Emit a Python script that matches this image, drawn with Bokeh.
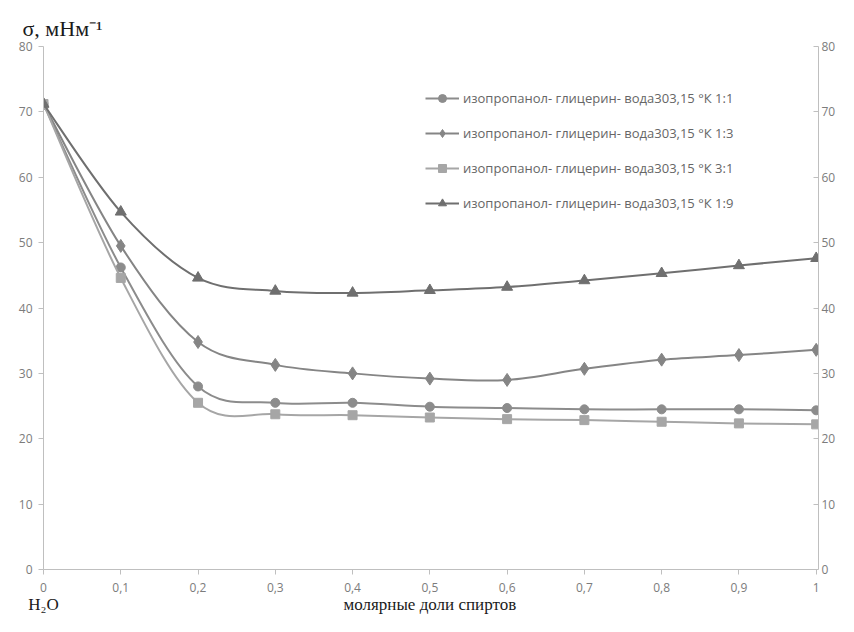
import numpy as np
from bokeh.plotting import figure
from bokeh.models import (Range1d, LinearAxis, FixedTicker, Title,
                          Legend, LegendItem, ColumnDataSource)
from bokeh.embed import file_html
from bokeh.resources import INLINE

# ---- data ----
x_vals = [0, 0.1, 0.2, 0.3, 0.4, 0.5, 0.6, 0.7, 0.8, 0.9, 1.0]
s_1_1 = [71.2, 46.2, 28.0, 25.5, 25.5, 24.9, 24.7, 24.5, 24.5, 24.5, 24.35]
s_1_3 = [71.2, 49.5, 34.8, 31.3, 30.0, 29.2, 29.0, 30.7, 32.1, 32.8, 33.6]
s_3_1 = [71.2, 44.6, 25.5, 23.75, 23.6, 23.25, 23.0, 22.85, 22.6, 22.35, 22.2]
s_1_9 = [71.2, 54.7, 44.6, 42.6, 42.3, 42.7, 43.2, 44.2, 45.3, 46.5, 47.6]

series_names = [
    "изопропанол- глицерин- вода303,15 °К 1:1",
    "изопропанол- глицерин- вода303,15 °К 1:3",
    "изопропанол- глицерин- вода303,15 °К 3:1",
    "изопропанол- глицерин- вода303,15 °К 1:9",
]
series_values = [s_1_1, s_1_3, s_3_1, s_1_9]
series_markers = ["circle", "diamond", "square", "triangle"]
series_sizes = [9, 13, 9, 11]
series_colors = ["#8c8c8c", "#858585", "#a6a6a6", "#6f6f6f"]

y_ticks = [0, 10, 20, 30, 40, 50, 60, 70, 80]
x_ticks = [0, 0.1, 0.2, 0.3, 0.4, 0.5, 0.6, 0.7, 0.8, 0.9, 1.0]
x_tick_labels = ["0", "0,1", "0,2", "0,3", "0,4", "0,5", "0,6", "0,7", "0,8", "0,9", "1"]

title_text = "σ, мНм⁻¹"
x_title_ticks = [0, 0.5]
x_title_texts = ["H₂O", "молярные доли спиртов"]

TICK_COLOR = "#7c7c7c"
AXIS_COLOR = "#bfbfbf"
SERIF = "Liberation Serif"
TXT = "#1a1a1a"

p = figure(width=838, height=616, x_range=Range1d(0, 1.003), y_range=Range1d(0, 80),
           output_backend="svg", toolbar_location=None,
           min_border_left=43, min_border_right=17, min_border_top=46, min_border_bottom=30,
           y_axis_location=None, x_axis_location=None)
p.outline_line_color = None
p.xgrid.visible = False
p.ygrid.visible = False
p.background_fill_color = "white"
p.border_fill_color = "white"

# axes
xaxis = LinearAxis(ticker=FixedTicker(ticks=x_ticks), bounds=(0, 1),
                   major_label_overrides=dict(zip(x_ticks, x_tick_labels)))
yaxis_l = LinearAxis(ticker=FixedTicker(ticks=y_ticks))
yaxis_r = LinearAxis(ticker=FixedTicker(ticks=y_ticks))
for ax in (xaxis, yaxis_l, yaxis_r):
    ax.axis_line_color = AXIS_COLOR
    ax.major_tick_line_color = AXIS_COLOR
    ax.minor_tick_line_color = None
    ax.major_label_text_color = TICK_COLOR
    ax.major_label_text_font = "Open Sans"
    ax.major_label_text_font_size = "12px"
    ax.major_tick_in = 0
    ax.major_tick_out = 5
xaxis.major_label_standoff = 8
yaxis_l.major_label_standoff = 6
yaxis_r.major_tick_in = 5
yaxis_r.major_tick_out = 0
yaxis_r.major_label_standoff = 3
p.add_layout(xaxis, "below")
p.add_layout(yaxis_l, "left")
p.add_layout(yaxis_r, "right")

# second (text-only) bottom axis: "H2O" under 0 and the x-axis title under 0.5
xaxis2 = LinearAxis(ticker=FixedTicker(ticks=x_title_ticks),
                    major_label_overrides=dict(zip(x_title_ticks, x_title_texts)))
xaxis2.axis_line_color = None
xaxis2.major_tick_line_color = None
xaxis2.minor_tick_line_color = None
xaxis2.major_tick_in = 0
xaxis2.major_tick_out = 0
xaxis2.major_label_standoff = 0
xaxis2.major_label_text_font = SERIF
xaxis2.major_label_text_font_size = "17px"
xaxis2.major_label_text_color = TXT
p.add_layout(xaxis2, "below")

# title (y quantity)
p.add_layout(Title(text=title_text, align="left", offset=-21, standoff=12,
                   text_font=SERIF, text_font_size="22px", text_font_style="normal",
                   text_color=TXT), "above")

# smooth curves (Catmull-Rom style bezier segments) + markers
items = []
for name, ys, mk, sz, col in zip(series_names, series_values, series_markers, series_sizes, series_colors):
    xs = np.array(x_vals, dtype=float)
    yv = np.array(ys, dtype=float)
    n = len(xs)
    x0, y0, x1, y1, cx0, cy0, cx1, cy1 = [], [], [], [], [], [], [], []
    for i in range(n - 1):
        ip = max(i - 1, 0)
        inn = min(i + 2, n - 1)
        x0.append(xs[i]); y0.append(yv[i])
        x1.append(xs[i + 1]); y1.append(yv[i + 1])
        cx0.append(xs[i] + (xs[i + 1] - xs[ip]) / 6.0)
        cy0.append(yv[i] + (yv[i + 1] - yv[ip]) / 6.0)
        cx1.append(xs[i + 1] - (xs[inn] - xs[i]) / 6.0)
        cy1.append(yv[i + 1] - (yv[inn] - yv[i]) / 6.0)
    src = ColumnDataSource(dict(x0=x0, y0=y0, x1=x1, y1=y1, cx0=cx0, cy0=cy0, cx1=cx1, cy1=cy1))
    r_line = p.bezier(x0="x0", y0="y0", x1="x1", y1="y1", cx0="cx0", cy0="cy0", cx1="cx1", cy1="cy1",
                      source=src, line_color=col, line_width=2)
    r_pts = p.scatter(x_vals, ys, marker=mk, size=sz, fill_color=col, line_color=col)
    items.append(LegendItem(label=name, renderers=[r_line, r_pts]))

legend = Legend(items=items, location=(382, 356))
legend.border_line_color = None
legend.background_fill_alpha = 0
legend.padding = 0
legend.margin = 0
legend.spacing = 15
legend.label_height = 20
legend.glyph_height = 20
legend.glyph_width = 34
legend.label_standoff = 4
legend.label_text_font = "Open Sans"
legend.label_text_font_size = "13px"
legend.label_text_color = "#666666"
p.add_layout(legend, "center")

open("out.html", "w").write(file_html(p, INLINE))
